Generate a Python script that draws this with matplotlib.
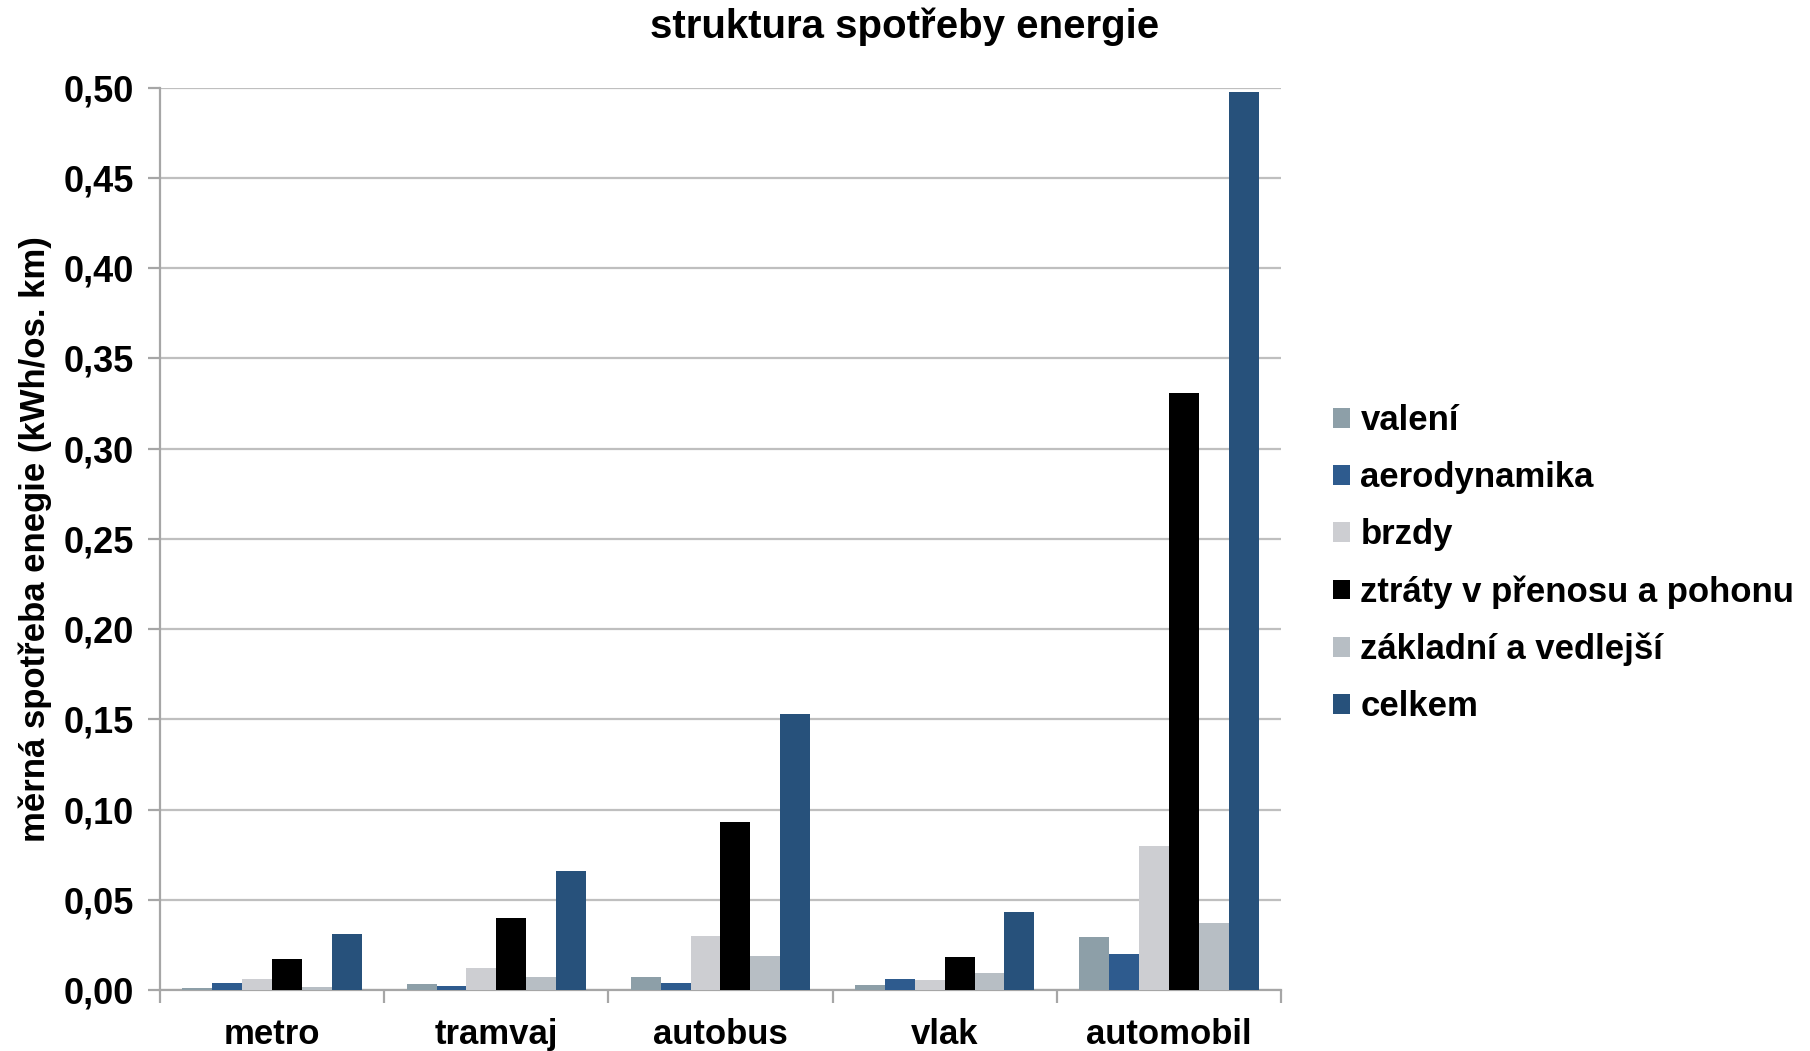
import matplotlib
matplotlib.use('Agg')
import matplotlib.pyplot as plt
import numpy as np

plt.rcParams['font.family'] = ['Liberation Sans', 'DejaVu Sans']

# dopravni prostredky
kategorie = ['metro', 'tramvaj', 'autobus', 'vlak', 'automobil']

# slozky spotreby (kWh/os. km)
valeni = [0.0013, 0.0035, 0.0075, 0.003, 0.0295]
aerodynamika = [0.004, 0.0025, 0.004, 0.006, 0.020]
brzdy = [0.006, 0.012, 0.030, 0.0055, 0.080]
ztraty = [0.017, 0.040, 0.093, 0.0185, 0.331]
zakladni = [0.0015, 0.0075, 0.019, 0.0095, 0.037]
celkem = [0.031, 0.066, 0.153, 0.043, 0.4975]

nazvy = ['valení', 'aerodynamika', 'brzdy', 'ztráty v přenosu a pohonu',
         'základní a vedlejší', 'celkem']
barvy = ['#8d9fa8', '#2e5b8e', '#cdced2', '#000000', '#b7bec4', '#27517b']

y_ticky = [0.0, 0.05, 0.10, 0.15, 0.20, 0.25, 0.30, 0.35, 0.40, 0.45, 0.50]
y_popisky = ['0,00', '0,05', '0,10', '0,15', '0,20', '0,25', '0,30',
             '0,35', '0,40', '0,45', '0,50']

serie = [valeni, aerodynamika, brzdy, ztraty, zakladni, celkem]

fig = plt.figure(figsize=(18.1, 10.51), dpi=100)
ax = fig.add_axes([0.0884, 0.058, 0.6193, 0.8586])

x = np.arange(len(kategorie))
sirka = 1.0 / 7.5
for i, (hodnoty, barva, nazev) in enumerate(zip(serie, barvy, nazvy)):
    ax.bar(x + (i - 2.5) * sirka, hodnoty, width=sirka, color=barva,
           label=nazev, zorder=3)

ax.set_xlim(-0.5, len(kategorie) - 0.5)
ax.set_ylim(0, 0.5)

ax.set_yticks(y_ticky)
ax.set_yticklabels(y_popisky, fontsize=26, fontweight='bold')
ax.yaxis.grid(True, color='#bfbfbf', linewidth=1.6, zorder=0)

# hranice kategorii jako hlavni ticky, popisky uprostred
ax.set_xticks(np.arange(len(kategorie) + 1) - 0.5)
ax.set_xticklabels([])
ax.set_xticks(x, minor=True)
ax.set_xticklabels(kategorie, minor=True, fontsize=25, fontweight='bold')
ax.tick_params(axis='x', which='minor', length=0, pad=20)
ax.tick_params(axis='x', which='major', length=9, width=1.6, color='#a6a6a6')
ax.tick_params(axis='y', length=9, width=1.6, color='#a6a6a6', pad=10)

for s in ['top', 'right']:
    ax.spines[s].set_visible(False)
for s in ['left', 'bottom']:
    ax.spines[s].set_color('#a6a6a6')
    ax.spines[s].set_linewidth(1.6)

ax.set_ylabel('měrná spotřeba enegie (kWh/os. km)', fontsize=25,
              fontweight='bold', labelpad=8)
fig.text(0.4995, 0.975, 'struktura spotřeby energie', ha='center', va='center',
         fontsize=29, fontweight='bold')

fig.legend(loc='upper left', bbox_to_anchor=(0.719, 0.645), frameon=False,
           prop={'size': 25, 'weight': 'bold'}, handlelength=0.5,
           handleheight=0.5, handletextpad=0.3, labelspacing=0.69)

fig.savefig('out.png', dpi=100)
